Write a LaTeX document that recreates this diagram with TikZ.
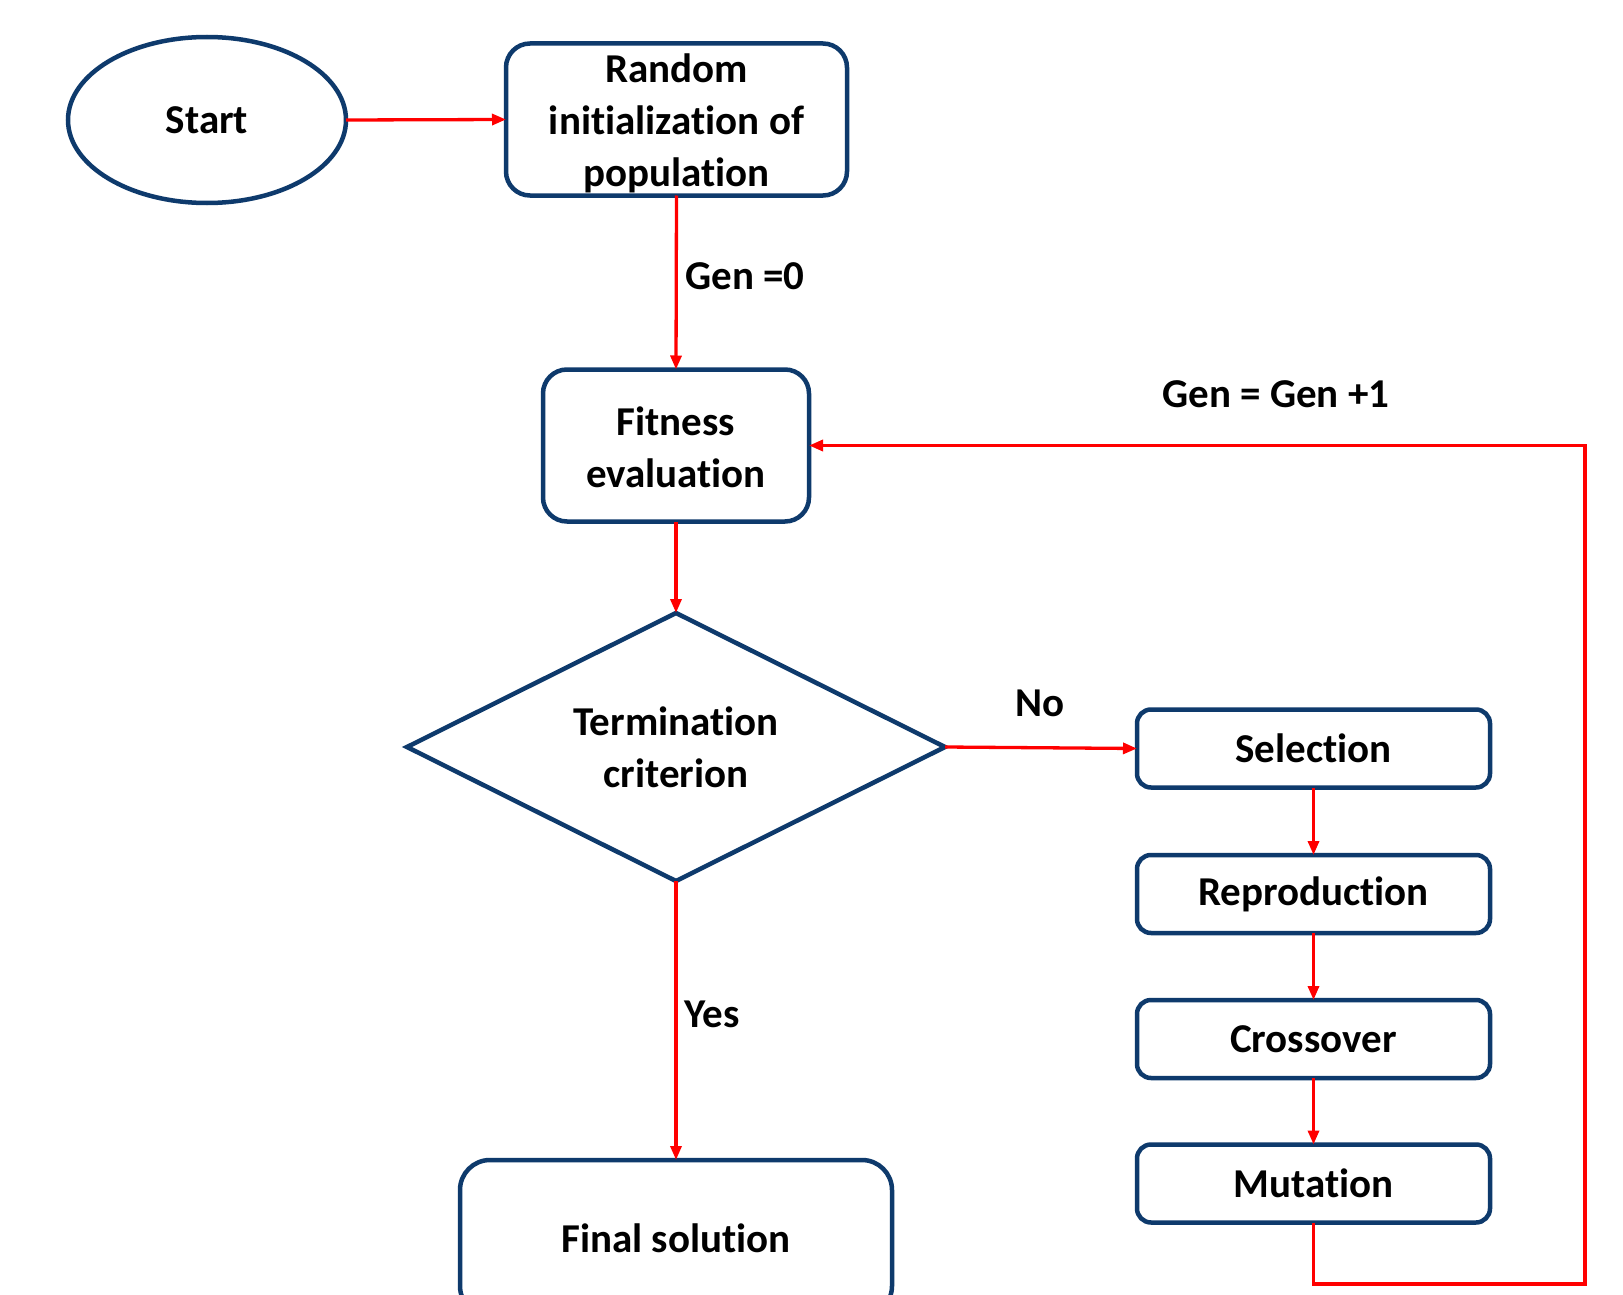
\documentclass[tikz,border=0pt]{standalone}
\usepackage{fontspec}
\setmainfont{Carlito}[RawFeature={-liga;-clig;-calt;-dlig}]
\usetikzlibrary{arrows.meta,shapes.geometric}
\definecolor{bord}{RGB}{14,58,108}
\begin{document}
\begin{tikzpicture}[x=1pt,y=-1pt,
  every node/.style={font=\bfseries\fontsize{41}{52}\selectfont, inner sep=0pt, outer sep=0pt},
  box/.style={draw=bord, line width=4.5pt, rounded corners=24pt, align=center, fill=white},
  sbox/.style={draw=bord, line width=4.5pt, rounded corners=14pt, align=center, minimum width=353pt, minimum height=78pt},
  conn/.style={draw=red, line width=3.3pt, -{Triangle[length=14pt,width=11pt]}},
  lab/.style={}]
\useasboundingbox (0,0) rectangle (1623,1295);
\clip (0,0) rectangle (1623,1295);
\fill[white] (0,0) rectangle (1623,1295);
\node[draw=bord, line width=4.5pt, ellipse, minimum width=278pt, minimum height=166pt] (start) at (207,120) {Start};
\node[box, minimum width=341pt, minimum height=152pt] (rand) at (676.5,119.5) {};
\node[align=center] (randtext) at ([yshift=-4pt]rand.center) {Random\\initialization of\\population};
\node[box, minimum width=266pt, minimum height=152pt] (fit) at (676,445.5) {};
\node[align=center] (fittext) at ([yshift=-2pt]fit.center) {Fitness\\evaluation};
\node[draw=bord, line width=4.5pt, diamond, aspect=2, minimum width=538pt, minimum height=268pt, align=center] (term) at (676,747) {Termination\\criterion};
\node[box, rounded corners=30pt, minimum width=432pt, minimum height=156pt] (final) at (676,1238) {Final solution};
\node[sbox] (sel) at (1313.5,748.5) {Selection};
\node[sbox] (rep) at (1313.5,894) {Reproduction};
\node[sbox] (cro) at (1313.5,1039) {Crossover};
\node[sbox] (mut) at (1313.5,1183.5) {Mutation};
\coordinate (c1) at (1585,1284);
\node[lab] (g0) at (745,276) {Gen =0};
\node[lab] (g1) at (1276,394) {Gen = Gen +1};
\node[lab] (no) at (1040,703) {No};
\node[lab] (yes) at (712,1014) {Yes};
\draw[conn] (start.east) -- (rand.west);
\draw[conn] (rand.south) -- (fit.north);
\draw[conn] (fit.south) -- (term.north);
\draw[conn] (term.east) -- (sel.west);
\draw[conn] (term.south) -- (final.north);
\draw[conn] (sel.south) -- (rep.north);
\draw[conn] (rep.south) -- (cro.north);
\draw[conn] (cro.south) -- (mut.north);
\draw[conn] (mut.south) |- (c1) |- (fit.east);
\end{tikzpicture}
\end{document}
